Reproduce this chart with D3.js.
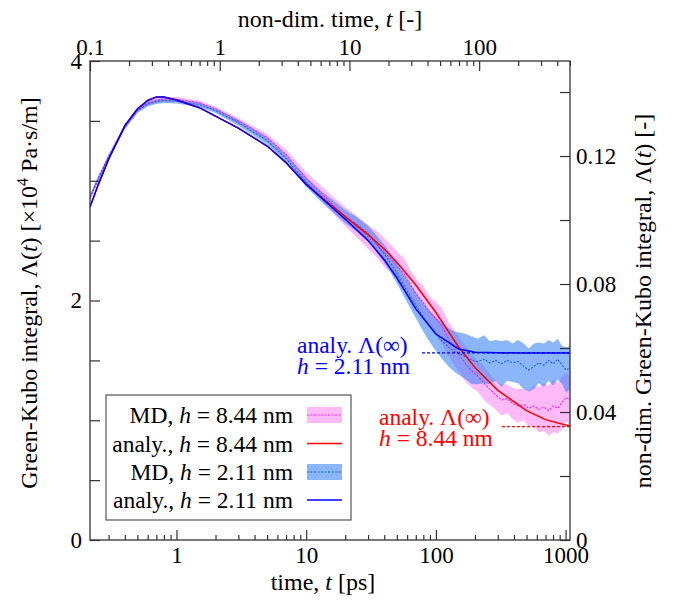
<!DOCTYPE html>
<html><head><meta charset="utf-8">
<script src="https://cdn.jsdelivr.net/npm/d3@7"></script>
<style>body{margin:0;background:#fff} svg text{font-family:"Liberation Serif","Times New Roman",serif;fill:#000}</style>
</head><body><svg id="c" width="684" height="601"></svg>
<script>
// ---- data ----
const tAnaly   = [0.2155,0.25,0.3,0.4,0.5,0.6,0.7,0.8,1,1.5,2,3,5,7,10,15,20,30,40,50,70,100,150,200,300,500,700,1000,1081];
const analy211 = [2.78,2.97,3.18,3.46,3.60,3.67,3.70,3.70,3.675,3.61,3.54,3.44,3.29,3.15,2.97,2.80,2.68,2.50,2.34,2.19,1.93,1.72,1.595,1.568,1.563,1.562,1.562,1.562,1.562];
const analy844 = [2.78,2.97,3.18,3.46,3.60,3.67,3.70,3.70,3.675,3.61,3.54,3.44,3.29,3.15,2.97,2.81,2.70,2.55,2.43,2.32,2.13,1.90,1.61,1.44,1.25,1.08,1.005,0.96,0.953];
const tMD   = [0.2155,0.25,0.3,0.4,0.5,0.6,0.7,0.8,1,1.5,2,3,5,7,10,13,16,20,25,30,35,40,45,50,57,64,72,80,90,100,112,125,140,155,170,190,210,235,260,290,320,355,390,430,475,520,570,620,680,740,800,870,940,1010,1081];
const md844 = [2.86,3.02,3.20,3.45,3.59,3.65,3.67,3.68,3.68,3.65,3.60,3.50,3.36,3.22,3.02,2.90,2.80,2.70,2.61,2.53,2.47,2.40,2.35,2.29,2.22,2.13,2.04,1.98,1.90,1.85,1.78,1.68,1.60,1.53,1.47,1.41,1.37,1.31,1.26,1.21,1.17,1.18,1.14,1.12,1.13,1.10,1.12,1.09,1.11,1.08,1.12,1.10,1.15,1.19,1.17];
const sd844 = [0.02,0.02,0.02,0.02,0.02,0.02,0.02,0.02,0.02,0.02,0.02,0.025,0.03,0.04,0.05,0.06,0.07,0.08,0.09,0.10,0.11,0.12,0.115,0.12,0.13,0.12,0.13,0.14,0.13,0.14,0.15,0.14,0.15,0.14,0.15,0.14,0.13,0.14,0.13,0.12,0.13,0.12,0.13,0.14,0.13,0.15,0.17,0.19,0.20,0.21,0.22,0.21,0.22,0.20,0.21];
const md211 = [2.86,3.02,3.20,3.45,3.585,3.64,3.66,3.67,3.665,3.635,3.585,3.485,3.335,3.185,2.99,2.87,2.79,2.70,2.63,2.56,2.47,2.39,2.31,2.23,2.12,2.03,1.94,1.86,1.78,1.72,1.66,1.61,1.57,1.55,1.53,1.50,1.49,1.51,1.48,1.50,1.47,1.50,1.48,1.49,1.45,1.42,1.45,1.48,1.46,1.50,1.47,1.51,1.46,1.42,1.44];
const sd211 = [0.02,0.02,0.02,0.02,0.02,0.02,0.02,0.02,0.02,0.02,0.02,0.025,0.03,0.035,0.04,0.045,0.05,0.055,0.06,0.065,0.07,0.075,0.08,0.085,0.09,0.10,0.11,0.12,0.13,0.14,0.15,0.16,0.17,0.18,0.19,0.20,0.19,0.20,0.18,0.17,0.19,0.17,0.16,0.18,0.19,0.18,0.19,0.17,0.18,0.17,0.18,0.17,0.16,0.19,0.18];
const plateau211 = 1.562, plateau844 = 0.946;
const bottomTicks = [1,10,100,1000];
const topTicks = [0.1,1,10,100];
const leftTicks = [0,2,4];
const leftMinor = [0.5,1,1.5,2.5,3,3.5];
const rightTicks = [0,0.04,0.08,0.12];
const rightMinor = [0.02,0.06,0.10,0.14];
const legendLabels = [["MD, ","h"," = 8.44 nm"],["analy., ","h"," = 8.44 nm"],["MD, ","h"," = 2.11 nm"],["analy., ","h"," = 2.11 nm"]];

// ---- layout ----
const L=90,R=570,T=61,B=540;
const svg=d3.select('#c');
const x=d3.scaleLog().domain([0.2155,1081]).range([L,R]);
const xTop=d3.scaleLog().domain([0.1,0.1*1081/0.2155]).range([L,R]);
const y=d3.scaleLinear().domain([0,4]).range([B,T]);
const yR=d3.scaleLinear().domain([0,0.1497]).range([B,T]);
const FONT='"Liberation Serif","Times New Roman",serif';
const AX='#333';

function minorLog(scale){
  const [a,b]=scale.domain(); const out=[];
  for(let e=-2;e<=4;e++){ for(let k=2;k<=9;k++){ const v=k*Math.pow(10,e); if(v>a*1.001&&v<b*0.999) out.push(v);} }
  return out;
}
function finish(sel){
  sel.select('.domain').remove();
  sel.attr('font-family',FONT).attr('font-size',23);
  sel.selectAll('line').attr('stroke',AX).attr('stroke-width',1.2);
  sel.selectAll('text').attr('fill','#000');
}

svg.append('defs').append('clipPath').attr('id','clip').append('rect').attr('x',L).attr('y',T).attr('width',R-L).attr('height',B-T);
const plot=svg.append('g').attr('clip-path','url(#clip)');

// bands
const md844d=tMD.map((t,i)=>({t,m:md844[i],s:sd844[i]}));
const md211d=tMD.map((t,i)=>({t,m:md211[i],s:sd211[i]}));
const area=d3.area().x(d=>x(d.t)).y0(d=>y(d.m-d.s)).y1(d=>y(d.m+d.s));
plot.append('path').datum(md844d).attr('d',area).attr('fill','#ff66ee').attr('fill-opacity',0.45);
plot.append('path').datum(md211d).attr('d',area).attr('fill','#3d85f5').attr('fill-opacity',0.6);
const lineMD=d3.line().x(d=>x(d.t)).y(d=>y(d.m));
plot.append('path').datum(md844d).attr('d',lineMD).attr('fill','none').attr('stroke','#ee22ee').attr('stroke-width',1.1).attr('stroke-dasharray','2,1.5');
plot.append('path').datum(md211d).attr('d',lineMD).attr('fill','none').attr('stroke','#1f5fe8').attr('stroke-width',1.1).attr('stroke-dasharray','2,1.5');
const lineA=d3.line().x(d=>x(d[0])).y(d=>y(d[1]));
plot.append('path').datum(tAnaly.map((t,i)=>[t,analy844[i]])).attr('d',lineA).attr('fill','none').attr('stroke','#ff0000').attr('stroke-width',1.5);
plot.append('path').datum(tAnaly.map((t,i)=>[t,analy211[i]])).attr('d',lineA).attr('fill','none').attr('stroke','#0000ff').attr('stroke-width',1.5);

// plateau dashed lines
svg.append('line').attr('x1',422).attr('x2',R).attr('y1',y(plateau211)).attr('y2',y(plateau211)).attr('stroke','#0000ff').attr('stroke-width',1.2).attr('stroke-dasharray','3,2');
svg.append('line').attr('x1',502).attr('x2',R).attr('y1',y(plateau844)).attr('y2',y(plateau844)).attr('stroke','#ff0000').attr('stroke-width',1.2).attr('stroke-dasharray','3,2');

// axes
svg.append('g').attr('transform',`translate(0,${B})`).call(d3.axisBottom(x).tickValues(bottomTicks).tickFormat(d3.format('d')).tickSizeInner(-10).tickSizeOuter(0).tickPadding(7)).call(finish);
svg.append('g').attr('transform',`translate(0,${B})`).call(d3.axisBottom(x).tickValues(minorLog(x)).tickFormat('').tickSizeInner(-5).tickSizeOuter(0)).call(finish);
svg.append('g').attr('transform',`translate(0,${T})`).call(d3.axisTop(xTop).tickValues(topTicks).tickFormat(d=>String(d)).tickSizeInner(-10).tickSizeOuter(0).tickPadding(6)).call(finish);
svg.append('g').attr('transform',`translate(0,${T})`).call(d3.axisTop(xTop).tickValues(minorLog(xTop)).tickFormat('').tickSizeInner(-5).tickSizeOuter(0)).call(finish);
svg.append('g').attr('transform',`translate(${L},0)`).call(d3.axisLeft(y).tickValues(leftTicks).tickFormat(d3.format('d')).tickSizeInner(-10).tickSizeOuter(0).tickPadding(8)).call(finish);
svg.append('g').attr('transform',`translate(${L},0)`).call(d3.axisLeft(y).tickValues(leftMinor).tickFormat('').tickSizeInner(-10).tickSizeOuter(0)).call(finish);
svg.append('g').attr('transform',`translate(${R},0)`).call(d3.axisRight(yR).tickValues(rightTicks).tickFormat(d=>d===0?'0':d.toFixed(2)).tickSizeInner(-10).tickSizeOuter(0).tickPadding(6)).call(finish);
svg.append('g').attr('transform',`translate(${R},0)`).call(d3.axisRight(yR).tickValues(rightMinor).tickFormat('').tickSizeInner(-10).tickSizeOuter(0)).call(finish);

svg.append('rect').attr('x',L).attr('y',T).attr('width',R-L).attr('height',B-T).attr('fill','none').attr('stroke',AX).attr('stroke-width',1.3);

// axis titles
function rich(sel, parts){
  parts.forEach(p=>{ const ts=sel.append('tspan').text(p[0]); if(p[1]==='i') ts.attr('font-style','italic'); if(p[1]==='sup') ts.attr('font-size',16).attr('dy',-9); if(p[1]==='after') ts.attr('dy',9); });
}
let t1=svg.append('text').attr('x',330).attr('y',27).attr('text-anchor','middle').attr('font-size',24);
rich(t1,[["non-dim. time, "],["t",'i'],[" [-]"]]);
let t2=svg.append('text').attr('x',323).attr('y',590).attr('text-anchor','middle').attr('font-size',24);
rich(t2,[["time, "],["t",'i'],[" [ps]"]]);
let t3=svg.append('text').attr('transform','translate(37,293) rotate(-90)').attr('text-anchor','middle').attr('font-size',24);
rich(t3,[["Green-Kubo integral, Λ("],["t",'i'],[") [×10"],["4",'sup'],[" Pa·s/m]",'after']]);
let t4=svg.append('text').attr('transform','translate(651,301) rotate(-90)').attr('text-anchor','middle').attr('font-size',24);
rich(t4,[["non-dim. Green-Kubo integral, Λ("],["t",'i'],[") [-]"]]);

// annotations
let a1=svg.append('text').attr('x',297).attr('y',353).attr('font-size',23.5).style('fill','#0000ff'); rich(a1,[["analy. Λ(∞)"]]);
let a2=svg.append('text').attr('x',297).attr('y',374).attr('font-size',23.5).style('fill','#0000ff'); rich(a2,[["h",'i'],[" = 2.11 nm"]]);
let a3=svg.append('text').attr('x',379).attr('y',425).attr('font-size',23.5).style('fill','#ff0000'); rich(a3,[["analy. Λ(∞)"]]);
let a4=svg.append('text').attr('x',379).attr('y',446).attr('font-size',23.5).style('fill','#ff0000'); rich(a4,[["h",'i'],[" = 8.44 nm"]]);

// legend
const lg=svg.append('g');
lg.append('rect').attr('x',106).attr('y',395).attr('width',245).attr('height',125).attr('fill','#fff').attr('stroke','#555').attr('stroke-width',1.2);
const rowsY=[415,443.5,472,500];
legendLabels.forEach((lab,i)=>{
  const tx=lg.append('text').attr('x',293).attr('y',rowsY[i]).attr('dy','0.35em').attr('text-anchor','end').attr('font-size',23.5);
  rich(tx,[[lab[0]],[lab[1],'i'],[lab[2]]]);
});
lg.append('rect').attr('x',307).attr('y',rowsY[0]-8).attr('width',35).attr('height',16).attr('fill','#ff66ee').attr('fill-opacity',0.45);
lg.append('line').attr('x1',307).attr('x2',342).attr('y1',rowsY[0]).attr('y2',rowsY[0]).attr('stroke','#ee22ee').attr('stroke-width',1.1).attr('stroke-dasharray','2,1.5');
lg.append('line').attr('x1',307).attr('x2',342).attr('y1',rowsY[1]).attr('y2',rowsY[1]).attr('stroke','#ff0000').attr('stroke-width',1.5);
lg.append('rect').attr('x',307).attr('y',rowsY[2]-8).attr('width',35).attr('height',16).attr('fill','#3d85f5').attr('fill-opacity',0.6);
lg.append('line').attr('x1',307).attr('x2',342).attr('y1',rowsY[2]).attr('y2',rowsY[2]).attr('stroke','#1f5fe8').attr('stroke-width',1.1).attr('stroke-dasharray','2,1.5');
lg.append('line').attr('x1',307).attr('x2',342).attr('y1',rowsY[3]).attr('y2',rowsY[3]).attr('stroke','#0000ff').attr('stroke-width',1.5);
</script></body></html>
